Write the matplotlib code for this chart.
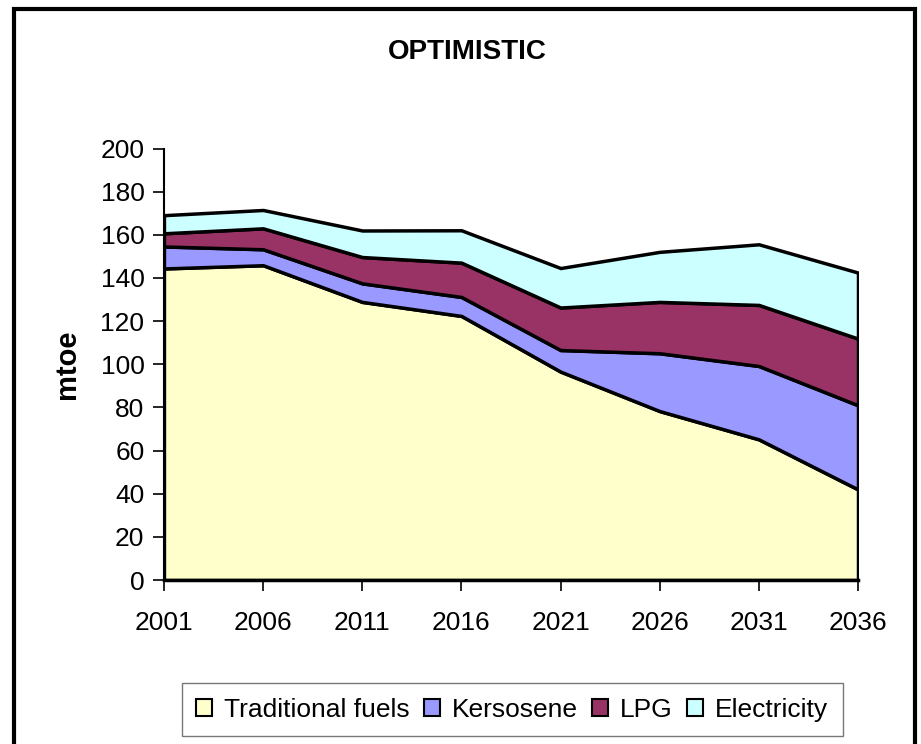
#!/usr/bin/env python3
"""Optimistic scenario - stacked area chart of household energy use (mtoe)."""

import matplotlib
matplotlib.use('Agg')
import matplotlib.pyplot as plt
from matplotlib.patches import Patch, Rectangle

plt.rcParams['font.family'] = ['Liberation Sans', 'DejaVu Sans']

# Data
years = ['2001', '2006', '2011', '2016', '2021', '2026', '2031', '2036']
traditional = [144.4, 145.9, 128.9, 122.4, 96.6, 78.3, 65.2, 42.0]
kerosene = [10.2, 7.4, 8.6, 8.8, 10.0, 26.8, 34.0, 39.0]
lpg = [6.1, 9.7, 12.2, 15.9, 19.7, 23.8, 28.3, 30.9]
electricity = [8.4, 8.5, 12.3, 15.0, 18.3, 23.2, 28.1, 30.6]

series_names = ['Traditional fuels', 'Kersosene', 'LPG', 'Electricity']
series_colors = ['#FFFFCC', '#9999FF', '#993366', '#CCFFFF']


def create_chart():
    fig = plt.figure(figsize=(9.21, 7.44), dpi=100, facecolor='white')
    ax = fig.add_axes([0.178, 0.2204, 0.7536, 0.580])

    x = list(range(len(years)))
    polys = ax.stackplot(x, traditional, kerosene, lpg, electricity,
                         colors=series_colors, edgecolor='black', linewidth=2.5)
    for p in polys:
        p.set_joinstyle('miter')

    ax.set_xlim(0, len(years) - 1)
    ax.set_ylim(0, 200)
    ax.set_yticks(range(0, 201, 20))
    ax.set_xticks(x)
    ax.set_xticklabels(years)

    for side in ('top', 'right'):
        ax.spines[side].set_visible(False)
    for side in ('left', 'bottom'):
        ax.spines[side].set_linewidth(1.5)
        ax.spines[side].set_zorder(5)
    ax.spines['bottom'].set_linewidth(2.5)

    ax.tick_params(axis='both', direction='out', length=8, width=1.2,
                   labelsize=19, colors='black')
    ax.tick_params(axis='x', pad=14)
    ax.tick_params(axis='y', pad=6)

    ax.set_ylabel('mtoe', fontsize=21, fontweight='bold', labelpad=14)

    fig.text(0.507, 0.930, 'OPTIMISTIC', fontsize=20, fontweight='bold',
             ha='center', va='center')

    # Legend
    handles = [Patch(facecolor=c, edgecolor='black', linewidth=1.5)
               for c in series_colors]
    leg = fig.legend(handles, series_names, loc='center',
                     bbox_to_anchor=(0.556, 0.046), ncol=4, fontsize=19,
                     frameon=True, fancybox=False, edgecolor='#555555',
                     handlelength=0.6, handleheight=0.6, handletextpad=0.45,
                     columnspacing=0.55, borderpad=0.55)
    leg.get_frame().set_linewidth(1.0)

    # Outer chart border
    fig.add_artist(Rectangle((14 / 921, -0.02), (915 - 14) / 921, 1.02 - 9 / 744,
                             transform=fig.transFigure, fill=False,
                             edgecolor='black', linewidth=3))
    return fig


def main():
    fig = create_chart()
    fig.savefig('out.png', dpi=100, facecolor='white')
    plt.close(fig)


if __name__ == '__main__':
    main()
